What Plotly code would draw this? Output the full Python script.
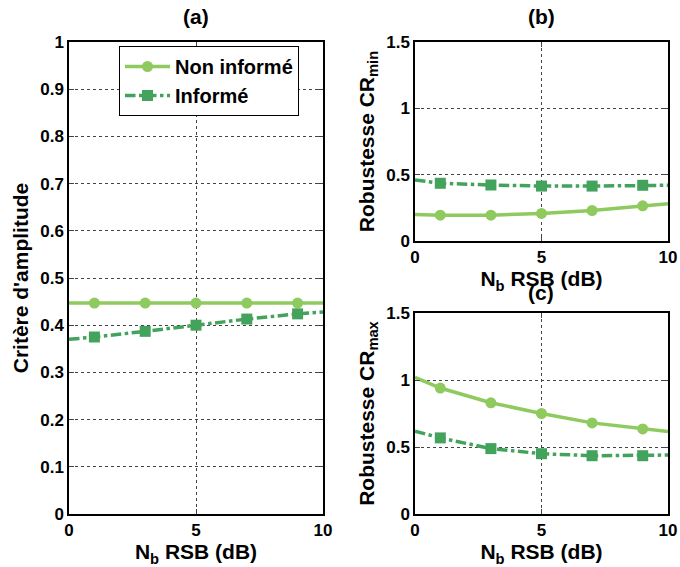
import plotly.graph_objects as go

x = [0, 1, 3, 5, 7, 9, 10]
a_non = [0.447, 0.447, 0.447, 0.447, 0.447, 0.447, 0.447]
a_inf = [0.370, 0.375, 0.387, 0.400, 0.413, 0.424, 0.428]
b_non = [0.20, 0.195, 0.195, 0.208, 0.23, 0.265, 0.28]
b_inf = [0.46, 0.435, 0.422, 0.414, 0.414, 0.42, 0.42]
c_non = [1.02, 0.94, 0.83, 0.75, 0.68, 0.635, 0.615]
c_inf = [0.618, 0.568, 0.488, 0.45, 0.435, 0.435, 0.44]
msize = [0, 11, 11, 11, 11, 11, 0]

C1 = "#8fca5e"
C2 = "#43a35c"
FONT = "Liberation Sans"
W, H = 680, 567


def px(v):
    return v / W


def py(v):
    return 1 - v / H


fig = go.Figure()


def mk(sym, size, col):
    return dict(symbol=sym, size=size, color=col, opacity=1, line=dict(width=0))


def add(xa, ya, yn, yi):
    fig.add_trace(go.Scatter(x=x, y=yn, mode="lines+markers", name="Non informé",
                             line=dict(color=C1, width=3.5),
                             marker=mk("circle", msize, C1),
                             xaxis=xa, yaxis=ya, showlegend=False))
    fig.add_trace(go.Scatter(x=x, y=yi, mode="lines+markers", name="Informé",
                             line=dict(color=C2, width=3.5, dash="dashdot"),
                             marker=mk("square", msize, C2),
                             xaxis=xa, yaxis=ya, showlegend=False))


add("x", "y", a_non, a_inf)
add("x2", "y2", b_non, b_inf)
add("x3", "y3", c_non, c_inf)

# legend entries
fig.add_trace(go.Scatter(x=[None], y=[None], mode="lines+markers", name="Non informé",
                         line=dict(color=C1, width=3.5), marker=mk("circle", 11, C1)))
fig.add_trace(go.Scatter(x=[None], y=[None], mode="lines+markers", name="Informé",
                         line=dict(color=C2, width=3.5, dash="dashdot"), marker=mk("square", 11, C2)))

tickf = dict(family=FONT, size=17, color="black", weight="bold")
titlef = dict(family=FONT, size=21, color="black", weight="bold")


def xax(dom, anchor):
    return dict(domain=dom, anchor=anchor, range=[0, 10], tickvals=[0, 5, 10],
                ticks="inside", ticklen=5, showline=True, linecolor="black", linewidth=1.5,
                mirror="ticks", showgrid=True, gridcolor="#444", griddash="dot", gridwidth=1,
                zeroline=False, tickfont=tickf, automargin=False,
                title=dict(text="N<sub>b</sub> RSB (dB)", font=titlef, standoff=2))


def yax(dom, anchor, rng, tv, title):
    return dict(domain=dom, anchor=anchor, range=rng, tickvals=tv,
                ticks="inside", ticklen=5, showline=True, linecolor="black", linewidth=1.5,
                mirror="ticks", showgrid=True, gridcolor="#444", griddash="dot", gridwidth=1,
                zeroline=False, tickfont=tickf, automargin=False,
                title=dict(text=title, font=titlef, standoff=6))


fig.update_layout(
    width=W, height=H,
    margin=dict(l=0, r=0, t=0, b=0, autoexpand=False),
    plot_bgcolor="white", paper_bgcolor="white",
    xaxis=xax([px(69), px(323)], "y"),
    yaxis=yax([py(514), py(42)], "x", [0, 1], [i / 10 for i in range(11)], "Critère d'amplitude"),
    xaxis2=xax([px(415), px(668)], "y2"),
    yaxis2=yax([py(241), py(42)], "x2", [0, 1.5], [0, 0.5, 1, 1.5], "Robustesse CR<sub>min</sub>"),
    xaxis3=xax([px(415), px(668)], "y3"),
    yaxis3=yax([py(514), py(313)], "x3", [0, 1.5], [0, 0.5, 1, 1.5], "Robustesse CR<sub>max</sub>"),
    legend=dict(x=px(119), y=py(46), xanchor="left", yanchor="top",
                bgcolor="white", bordercolor="black", borderwidth=1,
                font=dict(family=FONT, size=20, color="black", weight="bold"),
                itemwidth=45, tracegroupgap=0),
    annotations=[
        dict(text="(a)", x=px(196), y=py(17), xref="paper", yref="paper", showarrow=False,
             xanchor="center", yanchor="middle",
             font=dict(family=FONT, size=21, color="black", weight="bold")),
        dict(text="(b)", x=px(541), y=py(17), xref="paper", yref="paper", showarrow=False,
             xanchor="center", yanchor="middle",
             font=dict(family=FONT, size=21, color="black", weight="bold")),
        dict(text="(c)", x=px(541), y=py(292), xref="paper", yref="paper", showarrow=False,
             xanchor="center", yanchor="middle",
             font=dict(family=FONT, size=21, color="black", weight="bold")),
    ],
)

fig.write_html("out.html", config={"displayModeBar": False},
               post_script="document.body.style.margin='0';document.body.style.overflow='hidden';")
